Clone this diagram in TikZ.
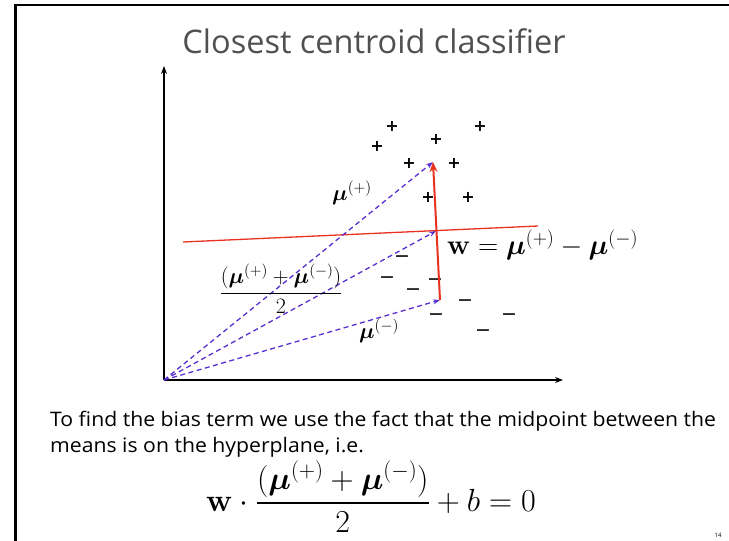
\RequirePackage{fix-cm}
\documentclass[tikz,border=0pt]{standalone}
\usepackage{amsmath,amssymb,bm}
\usepackage[no-math]{fontspec}
\setmainfont{Open Sans}
\newfontfamily\markfont{DejaVu Sans}
\usetikzlibrary{arrows.meta}
\definecolor{vecblue}{HTML}{5A2FD0}
\definecolor{hred}{HTML}{E8321E}
\definecolor{titlegray}{HTML}{505050}
\tikzset{
  frameline/.style={line width=2.6pt,black},
  axis/.style={line width=1.3pt,-{Stealth[length=8pt,width=6pt]}},
  vecarrow/.style={vecblue,line width=1.3pt,dash pattern=on 5pt off 3.5pt,-{Stealth[length=7pt,width=5pt]}},
  wvec/.style={hred,line width=2pt,-{Stealth[length=10pt,width=8pt]}},
  hplane/.style={hred,line width=1.3pt},
  plusmark/.style={inner sep=0pt,font=\markfont\bfseries\fontsize{16}{16}\selectfont},
  minusmark/.style={inner sep=0pt,font=\markfont\fontsize{19}{19}\selectfont},
  lab/.style={inner sep=0pt,font=\fontsize{22}{24}\selectfont},
  bodytext/.style={inner sep=0pt,anchor=west,xscale=1.06,font=\fontsize{20}{22}\selectfont},
}
\begin{document}
\begin{tikzpicture}[x=1pt,y=-1pt]
\useasboundingbox (0,0) rectangle (729,541);
% frame
\coordinate (fb) at (15.5,541);
\coordinate (fc) at (15.5,5);
\coordinate (fr) at (729,5);
\draw[frameline] (fb) -- (fc) -- (fr);
% title
\node[inner sep=0pt,text=titlegray,font=\fontsize{32.5}{34}\selectfont] (title) at (374,41) {Closest centroid classifier};
% axes
\coordinate (O) at (164,380);
\coordinate (ytop) at (164,66);
\coordinate (xend) at (563,380);
\draw[axis] (O) -- (ytop);
\draw[axis] (O) -- (xend);
% plus points
\foreach \x/\y [count=\i] in {392/126,480/126,377/146,436/139,409/163,454/163,428/197,468/197}
  \node[plusmark] (p\i) at (\x,\y) {+};
% minus points
\foreach \x/\y [count=\i] in {402/259,387/280,435/282,413/292,465/303,436/317,509/317,483/333}
  \node[minusmark] (m\i) at (\x,\y) {−};
% hyperplane
\coordinate (hl) at (183,242);
\coordinate (hr) at (538,226);
\draw[hplane] (hl) -- (hr);
% centroids
\coordinate (mup) at (433,162);
\coordinate (mid) at (436,231);
\coordinate (mum) at (440,300);
\draw[vecarrow] (O) -- (mup);
\draw[vecarrow] (O) -- (mid);
\draw[vecarrow] (O) -- (mum);
\draw[wvec] (mum) -- (mup);
% labels
\node[lab] (lmup) at (352,193) {$\bm{\mu}^{(+)}$};
\node[lab] (lmid) at (281,289) {$\dfrac{(\bm{\mu}^{(+)}+\bm{\mu}^{(-)})}{2}$};
\node[lab] (lmum) at (379,331) {$\bm{\mu}^{(-)}$};
\node[inner sep=0pt,anchor=west,font=\fontsize{28}{30}\selectfont] (lw) at (447,245) {$\mathbf{w}=\bm{\mu}^{(+)}-\bm{\mu}^{(-)}$};
% text
\node[bodytext] (t1) at (50,421) {To find the bias term we use the fact that the midpoint between the};
\node[bodytext] (t2) at (50,447) {means is on the hyperplane, i.e.};
\node[inner sep=0pt,font=\fontsize{32}{34}\selectfont] (eq) at (371,497) {$\mathbf{w}\cdot\dfrac{(\bm{\mu}^{(+)}+\bm{\mu}^{(-)})}{2}+b=0$};
\node[inner sep=0pt,font=\fontsize{6}{6}\selectfont] (pg) at (718,535) {14};
\end{tikzpicture}
\end{document}
